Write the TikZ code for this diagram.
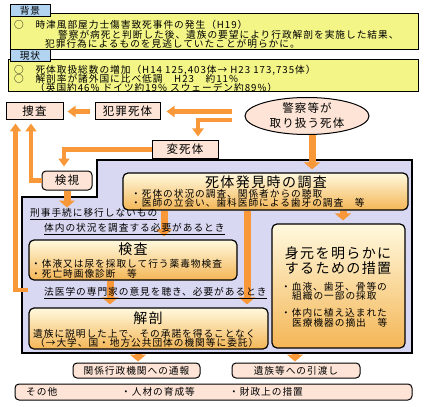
\documentclass[tikz,border=0pt]{standalone}
\usepackage{fontspec}
\newfontfamily\jpfont{Noto Sans CJK JP}[LetterSpace=10]
\usepackage{tikz}
\usetikzlibrary{arrows.meta,shapes.geometric}

\definecolor{boxyellow}{RGB}{243,245,135}
\definecolor{tabblue}{RGB}{178,212,240}
\definecolor{boxpink}{RGB}{253,228,214}
\definecolor{boxlav}{RGB}{216,216,242}
\definecolor{flowor}{RGB}{248,152,56}
\definecolor{gradtop}{RGB}{255,249,222}
\definecolor{gradbot}{RGB}{244,182,86}

\newcommand{\smalljp}{\jpfont\fontsize{9.7}{11}\selectfont}
\newcommand{\titlejp}{\jpfont\fontsize{14}{15}\selectfont}
\newcommand{\labeljp}{\jpfont\fontsize{11.5}{15}\selectfont}

\begin{document}
\begin{tikzpicture}[x=1pt, y=-1pt,
    txt/.style={anchor=west, inner sep=0pt, font=\smalljp},
    head/.style={inner sep=0pt, font=\titlejp, align=center},
    pinkbox/.style={draw=black, line width=1pt, fill=boxpink, inner sep=0pt, font=\labeljp},
    pinkround/.style={pinkbox, rounded corners=4pt, font=\smalljp},
    tab/.style={draw=black, line width=1pt, fill=tabblue, inner sep=0pt, font=\smalljp,
        minimum width=40pt, minimum height=12pt},
    gradbox/.style={draw=black, line width=1.2pt, rounded corners=5pt,
        top color=gradtop, bottom color=gradbot, inner sep=0pt},
    flow/.style={draw=flowor, line width=4.5pt, -{Triangle[width=11pt,length=8pt]}},
    bigflow/.style={draw=flowor, line width=7pt, -{Triangle[width=16pt,length=7pt]}}]

    \useasboundingbox (0,0) rectangle (430,406);

    % Background
    \draw[fill=boxyellow, line width=1pt] (10,14) rectangle (418,50);
    \node[tab] (tabbg) at (30,11) {背景};
    \node[txt] (bg1) at (14,25) {○　時津風部屋力士傷害致死事件の発生（H19）};
    \node[txt] (bg2) at (58,35) {警察が病死と判断した後、遺族の要望により行政解剖を実施した結果、};
    \node[txt] (bg3) at (45,44) {犯罪行為によるものを見逃していたことが明らかに。};

    % Current state
    \draw[fill=boxyellow, line width=1pt] (8,60) rectangle (418,92);
    \node[tab] (tabcur) at (30,56) {現状};
    \node[txt] (cur1) at (14,70) {○　死体取扱総数の増加（H14 125,403体→ H23 173,735体）};
    \node[txt] (cur2) at (14,79) {○　解剖率が諸外国に比べ低調　H23　約11\%};
    \node[txt] (cur3) at (35,88) {（英国約46\% ドイツ約19\% スウェーデン約89\%）};

    % Procedure area
    \draw[fill=boxlav, line width=1.3pt] (22,197) -- (97,197) -- (97,160) -- (412,160)
        -- (412,353) -- (22,353) -- cycle;

    \node[pinkbox, minimum width=57pt, minimum height=17pt] (sousa) at (34.5,111.5) {捜査};
    \node[pinkbox, minimum width=65pt, minimum height=17pt] (hanzai) at (127.5,111.5) {犯罪死体};
    \node[pinkbox, ellipse, minimum width=124pt, minimum height=37pt, align=center]
        (keisatsu) at (307,116) {警察等が\\取り扱う死体};
    \node[pinkbox, minimum width=66pt, minimum height=17pt] (henshi) at (185,149.5) {変死体};
    \node[pinkbox, rounded corners=4pt, minimum width=50pt, minimum height=19pt]
        (kenshi) at (67,180.5) {検視};

    \node[gradbox, minimum width=285pt, minimum height=37pt] (chousa) at (265.5,191.5) {};
    \node[gradbox, minimum width=208pt, minimum height=40pt] (kensa) at (133,260) {};
    \node[gradbox, minimum width=239pt, minimum height=41pt] (kaibo) at (148.5,328.5) {};
    \node[gradbox, minimum width=133pt, minimum height=124pt] (mimoto) at (338.5,286) {};

    \node[pinkround, minimum width=127pt, minimum height=15pt] (tsuho) at (136.5,370.5) {関係行政機関への通報};
    \node[pinkround, minimum width=128pt, minimum height=15pt] (hikiwatashi) at (296,370.5) {遺族等への引渡し};
    \node[pinkround, minimum width=397pt, minimum height=16pt] (sonota) at (213.5,392) {};

    % Arrows
    \coordinate (hoiL) at (28,290);
    \draw[flow, shorten <=5pt, shorten >=4pt] (hanzai.west) -- (sousa.east);
    \draw[flow, shorten >=6pt] ([xshift=-13pt]keisatsu.west |- hanzai.east) -- (hanzai.east);
    \draw[flow, shorten >=4pt] ([xshift=-13pt,yshift=-4pt]keisatsu.west) -| ([xshift=13pt]henshi.north);
    \draw[flow, shorten >=4pt] (henshi.west) -| ([xshift=-3pt]kenshi.north);
    \draw[flow, shorten >=3pt] (kenshi.west) -| ([xshift=-3.5pt]sousa.south);
    \draw[flow, shorten >=3pt] (hoiL) -| ([xshift=-19pt]sousa.south);

    \coordinate (kenshiEnd) at ([yshift=-17pt]kenshi.south);
    \draw[bigflow] (kenshi.south) -- (kenshiEnd);
    \draw[bigflow, shorten >=3pt] ([xshift=5pt]keisatsu.south) -- ([xshift=5pt]keisatsu.south |- chousa.north);
    \draw[bigflow, shorten >=3pt] ([xshift=-101.5pt]chousa.south) -- ([xshift=31pt]kensa.north);
    \draw[bigflow, shorten >=3pt] ([xshift=-18.5pt]chousa.south) -- ([xshift=98.5pt]kaibo.north);
    \draw[bigflow, shorten >=3pt] ([xshift=77.5pt]chousa.south) -- ([xshift=4.5pt]mimoto.north);
    \draw[bigflow, shorten >=3pt] ([xshift=-23pt]kensa.south) -- ([xshift=-38.5pt]kaibo.north);
    \draw[bigflow, shorten <=4pt, shorten >=1pt] ([xshift=-10.5pt]kaibo.south) -- ([xshift=1.5pt]tsuho.north);
    \draw[bigflow, shorten <=5pt, shorten >=1pt] ([xshift=-43.5pt]mimoto.south) -- ([xshift=-1pt]hikiwatashi.north);

    % Texts in the boxes
    \node[head] (chousaT) at (266,182) {死体発見時の調査};
    \node[txt] (chousa1) at (131,194) {・死体の状況の調査、関係者からの聴取};
    \node[txt] (chousa2) at (131,203) {・医師の立会い、歯科医師による歯牙の調査　等};

    \node[txt] (keiji) at (30,214) {\underline{刑事手続に移行しないもの}};
    \node[txt] (tainai) at (44,229) {\underline{体内の状況を調査する必要があるとき}};

    \node[head] (kensaT) at (133,249) {検査};
    \node[txt] (kensa1) at (31,264) {・体液又は尿を採取して行う薬毒物検査};
    \node[txt] (kensa2) at (31,274) {・死亡時画像診断　等};

    \node[txt] (hoigaku) at (44,293) {\underline{法医学の専門家の意見を聴き、必要があるとき}};

    \node[head] (kaiboT) at (148,318) {解剖};
    \node[txt] (kaibo1) at (33,334) {遺族に説明した上で、その承諾を得ることなく};
    \node[txt] (kaibo2) at (35,343) {（→大学、国・地方公共団体の機関等に委託）};

    \node[head] (mimotoT) at (338,260.5) {身元を明らかに\\するための措置};
    \node[txt] (mimoto1) at (281,287) {・血液、歯牙、骨等の};
    \node[txt] (mimoto2) at (292,296) {組織の一部の採取};
    \node[txt] (mimoto3) at (281,313) {・体内に植え込まれた};
    \node[txt] (mimoto4) at (292,323) {医療機器の摘出　等};

    \node[txt] (sonota1) at (26,392) {その他};
    \node[txt] (sonota2) at (121,392) {・人材の育成等};
    \node[txt] (sonota3) at (229,392) {・財政上の措置};

\end{tikzpicture}
\end{document}
